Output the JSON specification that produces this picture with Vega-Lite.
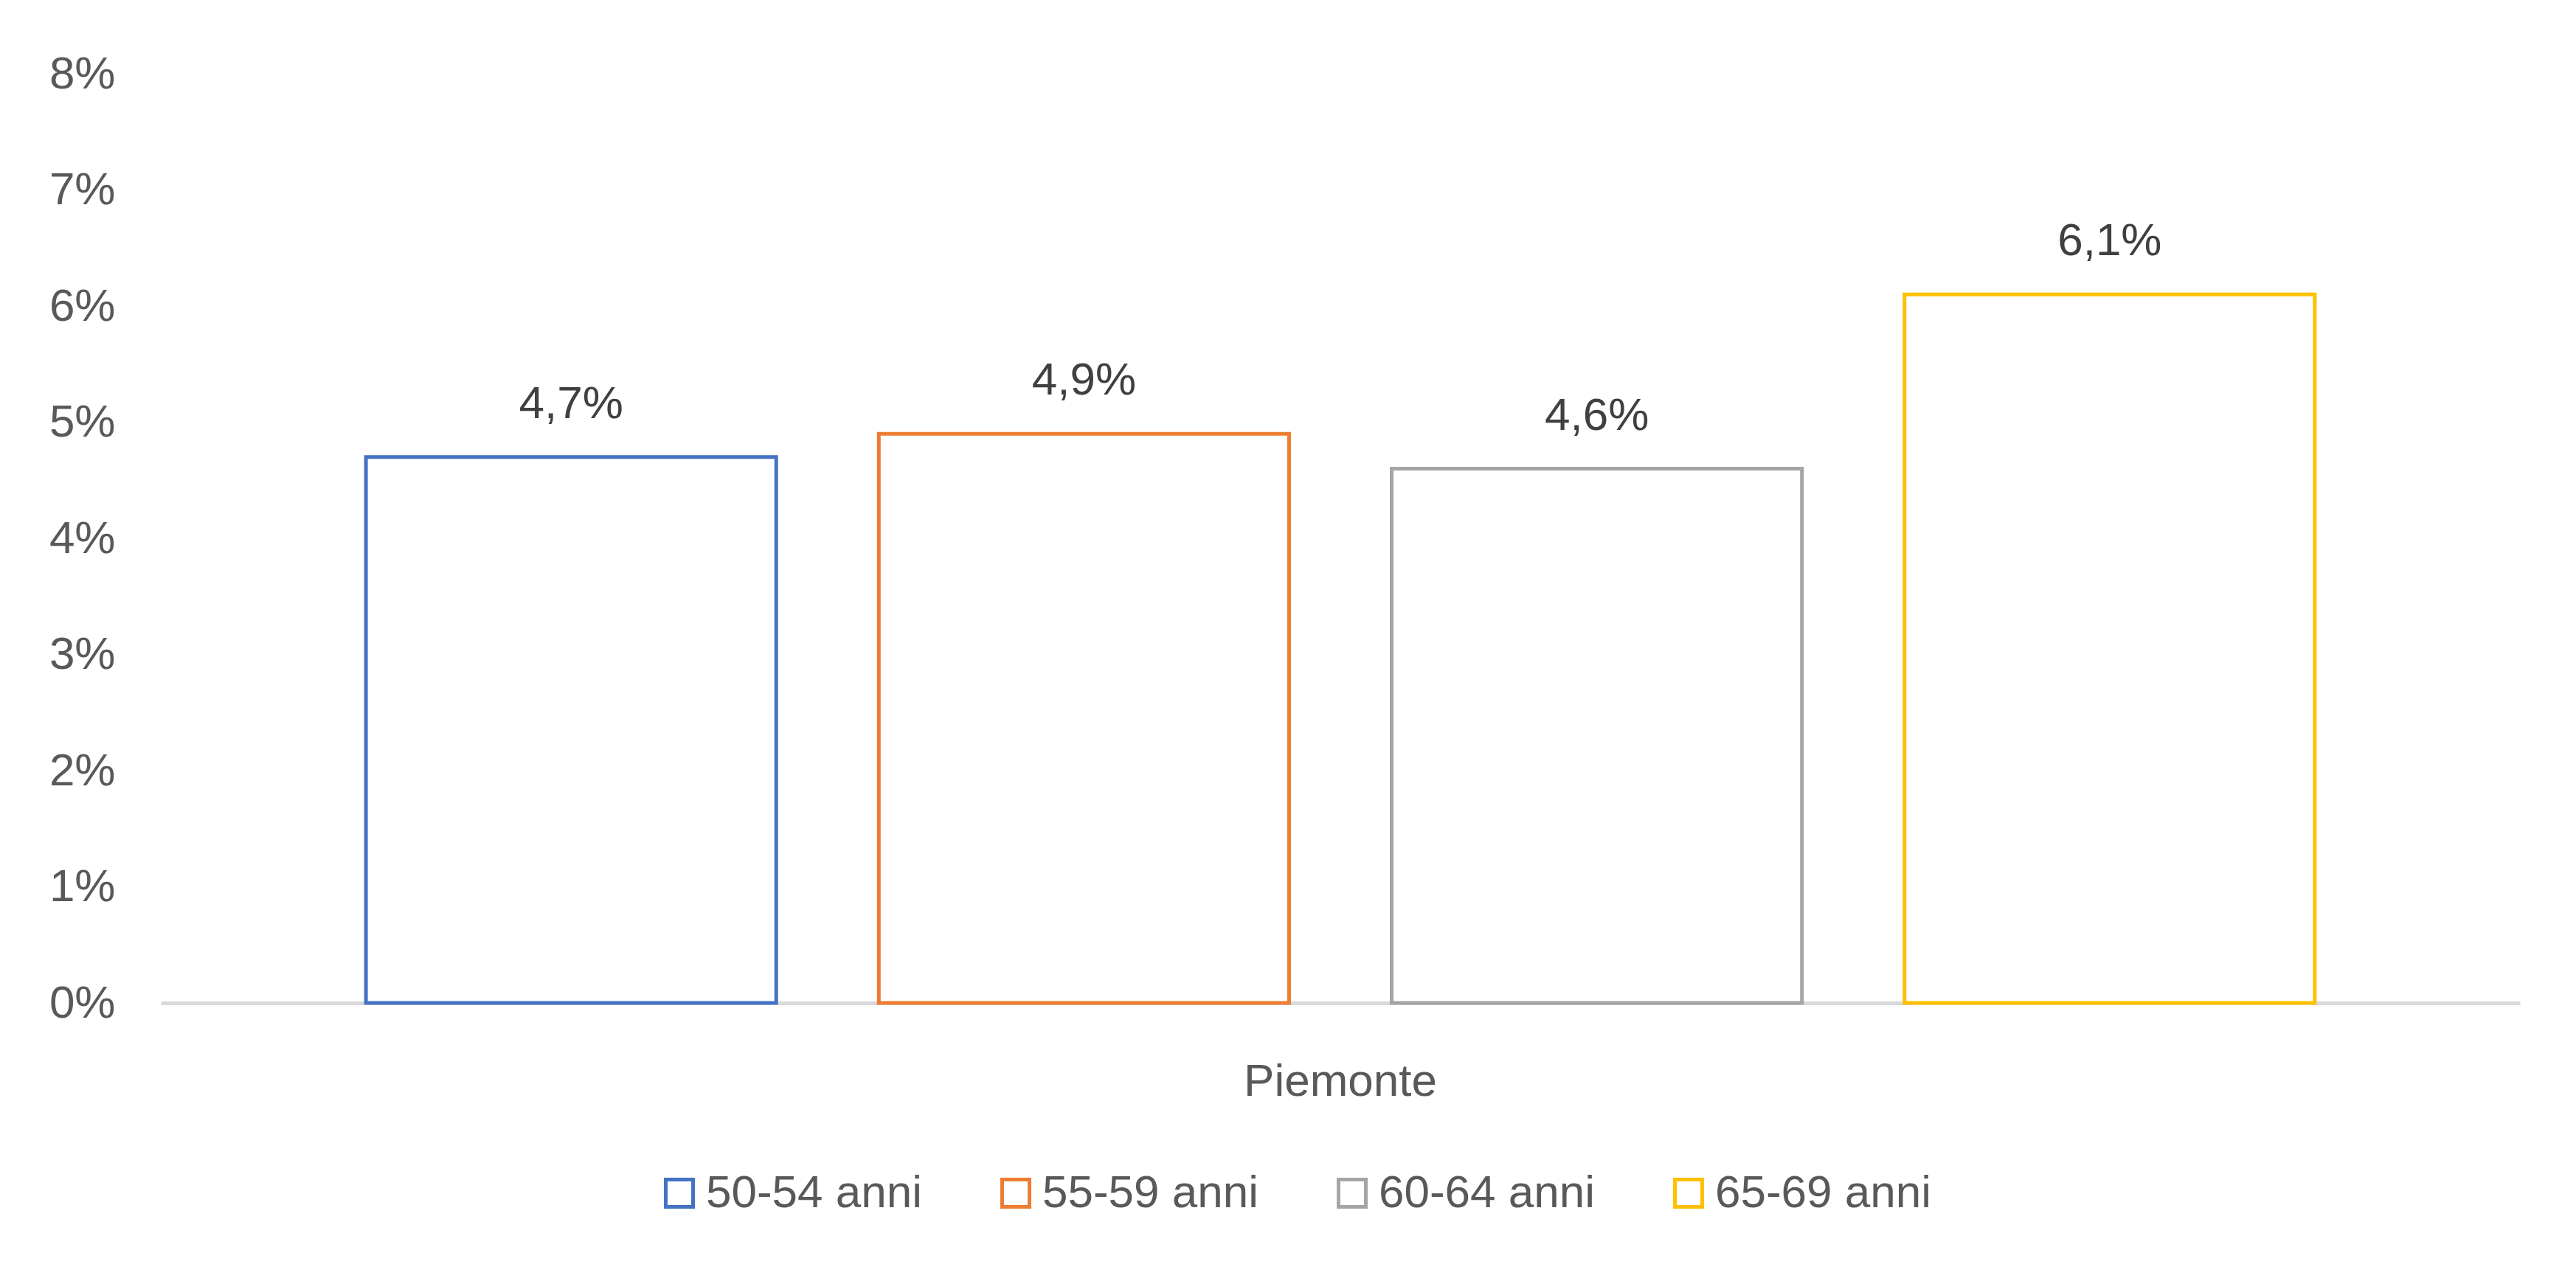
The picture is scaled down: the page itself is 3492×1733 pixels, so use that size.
{
  "$schema": "https://vega.github.io/schema/vega-lite/v6.json",
  "autosize": {"type": "none"},
  "width": 3198,
  "height": 1260,
  "padding": {"left": 218, "top": 100, "right": 76, "bottom": 373},
  "background": "white",
  "config": {
    "locale": {"number": {"decimal": ",", "thousands": ".", "grouping": [3], "currency": ["€", ""]}},
    "font": "Liberation Sans",
    "view": {"stroke": null},
    "axis": {"labelFont": "Liberation Sans", "labelFontSize": 62, "labelColor": "#595959", "labelLimit": 0, "labelOverlap": false}
  },
  "data": {
    "values": [
      {"regione": "Piemonte", "eta": "50-54 anni", "valore": 0.047},
      {"regione": "Piemonte", "eta": "55-59 anni", "valore": 0.049},
      {"regione": "Piemonte", "eta": "60-64 anni", "valore": 0.046},
      {"regione": "Piemonte", "eta": "65-69 anni", "valore": 0.061}
    ]
  },
  "encoding": {
    "x": {
      "field": "regione", "type": "nominal",
      "scale": {"paddingInner": 0, "paddingOuter": 0},
      "axis": {"title": null, "labelAngle": 0, "ticks": false, "domainColor": "#D9D9D9", "domainWidth": 5, "labelPadding": 106, "labelBaseline": "middle", "grid": false}
    },
    "xOffset": {
      "field": "eta", "type": "nominal",
      "scale": {"paddingInner": 0.2, "paddingOuter": 0.4}
    },
    "y": {
      "field": "valore", "type": "quantitative",
      "scale": {"domain": [0, 0.08], "nice": false},
      "axis": {"title": null, "format": ".0%", "values": [0, 0.01, 0.02, 0.03, 0.04, 0.05, 0.06, 0.07, 0.08], "domain": false, "ticks": false, "grid": false, "labelPadding": 62}
    }
  },
  "layer": [
    {
      "mark": {"type": "bar", "fill": "white", "strokeWidth": 5, "strokeJoin": "miter"},
      "encoding": {
        "stroke": {
          "field": "eta", "type": "nominal",
          "scale": {"domain": ["50-54 anni", "55-59 anni", "60-64 anni", "65-69 anni"], "range": ["#4472C4", "#ED7D31", "#A5A5A5", "#FFC000"]},
          "legend": {
            "title": null, "orient": "none", "direction": "horizontal", "columns": 4,
            "legendX": 672, "legendY": 1487, "padding": 0,
            "symbolType": "square", "symbolSize": 1369, "symbolStrokeWidth": 5, "symbolFillColor": "white",
            "labelFont": "Liberation Sans", "labelFontSize": 62, "labelColor": "#595959", "labelOffset": 5, "labelLimit": 0,
            "columnPadding": 95
          }
        }
      }
    },
    {
      "mark": {"type": "text", "fontSize": 62, "color": "#404040", "baseline": "middle", "dy": -72},
      "encoding": {
        "text": {"field": "valore", "type": "quantitative", "format": ".1%"}
      }
    }
  ]
}
